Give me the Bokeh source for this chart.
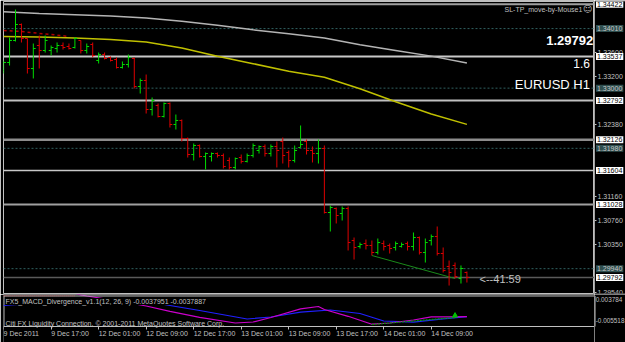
from bokeh.plotting import figure
from bokeh.models import (Range1d, FixedTicker, NumeralTickFormatter, Span, Label,
                          ColumnDataSource, LinearAxis)
from bokeh.layouts import column, row
from bokeh.embed import file_html
from bokeh.resources import INLINE

FONT = "Liberation Sans"

# ---------------- data (EURUSD H1) ----------------
bar_open = [1.33299, 1.33435, 1.33808, 1.34079, 1.33842, 1.33333, 1.33723, 1.33638, 1.33638, 1.33672,
            1.33723, 1.33706, 1.33689, 1.33808, 1.33638, 1.33740, 1.33469, 1.33571, 1.33520, 1.33486,
            1.33350, 1.33401, 1.33503, 1.33028, 1.33130, 1.32638, 1.32706, 1.32519, 1.32740, 1.32384,
            1.32452, 1.32146, 1.31875, 1.32028, 1.31841, 1.31841, 1.31892, 1.31858, 1.31774, 1.31655,
            1.31824, 1.31757, 1.31858, 1.31943, 1.32011, 1.31892, 1.32011, 1.32096, 1.31909, 1.31774,
            1.31994, 1.32096, 1.31943, 1.31892, 1.31977, 1.30892, 1.30960, 1.30875, 1.30960, 1.30417,
            1.30316, 1.30366, 1.30333, 1.30214, 1.30366, 1.30333, 1.30299, 1.30316, 1.30366, 1.30316,
            1.30468, 1.30214, 1.30417, 1.30485, 1.30197, 1.29977, 1.29994, 1.29773, 1.29875]
bar_high = [1.33469, 1.33859, 1.34333, 1.34096, 1.33842, 1.33757, 1.33893, 1.33893, 1.33723, 1.33774,
            1.33774, 1.33757, 1.33859, 1.33808, 1.33757, 1.33774, 1.33604, 1.33604, 1.33537, 1.33520,
            1.33452, 1.33571, 1.33520, 1.33164, 1.33231, 1.32842, 1.32740, 1.32757, 1.32757, 1.32553,
            1.32469, 1.32163, 1.32062, 1.32045, 1.31909, 1.31909, 1.31909, 1.31892, 1.31824, 1.31824,
            1.31875, 1.31892, 1.32062, 1.32028, 1.32045, 1.32045, 1.32096, 1.32163, 1.31943, 1.32028,
            1.32367, 1.32130, 1.32011, 1.32130, 1.32028, 1.31011, 1.30977, 1.30994, 1.30994, 1.30468,
            1.30383, 1.30434, 1.30417, 1.30451, 1.30417, 1.30366, 1.30400, 1.30383, 1.30400, 1.30553,
            1.30485, 1.30451, 1.30519, 1.30655, 1.30299, 1.30078, 1.30044, 1.29994, 1.29892]
bar_low = [1.33248, 1.33384, 1.33791, 1.33774, 1.33248, 1.33164, 1.33333, 1.33604, 1.33554, 1.33604,
           1.33655, 1.33655, 1.33672, 1.33588, 1.33588, 1.33520, 1.33418, 1.33486, 1.33452, 1.33333,
           1.33333, 1.33350, 1.32994, 1.32909, 1.32570, 1.32536, 1.32503, 1.32503, 1.32333, 1.32299,
           1.32096, 1.31824, 1.31774, 1.31824, 1.31621, 1.31757, 1.31824, 1.31638, 1.31621, 1.31621,
           1.31723, 1.31740, 1.31824, 1.31892, 1.31841, 1.31841, 1.31655, 1.31723, 1.31655, 1.31740,
           1.31994, 1.31875, 1.31740, 1.31723, 1.30875, 1.30570, 1.30706, 1.30756, 1.30248, 1.30095,
           1.30282, 1.30265, 1.30163, 1.30180, 1.30248, 1.30197, 1.30248, 1.30299, 1.30248, 1.30248,
           1.30180, 1.30044, 1.30333, 1.30163, 1.29875, 1.29654, 1.29773, 1.29688, 1.29705]
bar_close = [1.33435, 1.33808, 1.34079, 1.33842, 1.33333, 1.33672, 1.33638, 1.33808, 1.33689, 1.33723,
             1.33689, 1.33672, 1.33842, 1.33638, 1.33706, 1.33554, 1.33571, 1.33503, 1.33469, 1.33350,
             1.33401, 1.33520, 1.33028, 1.33130, 1.32638, 1.32791, 1.32519, 1.32740, 1.32384, 1.32452,
             1.32146, 1.31875, 1.32028, 1.31841, 1.31892, 1.31892, 1.31858, 1.31672, 1.31655, 1.31807,
             1.31757, 1.31858, 1.32028, 1.32011, 1.31892, 1.32011, 1.31943, 1.31858, 1.31774, 1.31943,
             1.32045, 1.31943, 1.31892, 1.31977, 1.30892, 1.30977, 1.30841, 1.30960, 1.30383, 1.30299,
             1.30350, 1.30333, 1.30214, 1.30383, 1.30316, 1.30282, 1.30366, 1.30350, 1.30316, 1.30468,
             1.30214, 1.30383, 1.30485, 1.30197, 1.29909, 1.29875, 1.29807, 1.29943, 1.29792]

time_tick_bars = [0, 8, 16, 24, 32, 40, 48, 56, 64, 72]
time_tick_labels = ["9 Dec 2011", "9 Dec 17:00", "12 Dec 01:00", "12 Dec 09:00", "12 Dec 17:00",
                    "13 Dec 01:00", "13 Dec 09:00", "13 Dec 17:00", "14 Dec 01:00", "14 Dec 09:00"]

price_ticks = [1.33600, 1.33200, 1.32380, 1.31160, 1.30760, 1.30350, 1.29540]
white_levels = [1.34422, 1.33537, 1.32792, 1.32126, 1.31604, 1.31028]
teal_levels = [1.34010, 1.33000, 1.31980, 1.29940]

ma_bars = [0, 6, 12, 18, 24, 30, 36, 42, 48, 54, 60, 66, 72, 78]
ma_silver = [1.34294, 1.34267, 1.34245, 1.34222, 1.34189, 1.34133, 1.34066, 1.33989,
             1.33923, 1.33852, 1.33735, 1.33638, 1.33543, 1.33426]
ma_yellow = [1.33876, 1.33867, 1.33852, 1.33825, 1.33782, 1.33681, 1.33542, 1.33415,
             1.33286, 1.33184, 1.32991, 1.32769, 1.32562, 1.32386]
stop_bars = [0, 3, 5, 8, 11]
stop_line = [1.33977, 1.33960, 1.33938, 1.33910, 1.33876]
div_bars = [62, 76]

macd_bars = [11, 13, 14, 19, 24, 28, 33, 39, 42, 45, 50, 53, 54, 58, 62, 65, 69, 72, 75, 78]
macd_main = [0.007328, 0.005778, 0.005335, 0.003252, 0.000905, -0.001443, -0.004101, -0.006627,
             -0.006184, -0.004190, -0.000336, 0.000683, -0.000646, -0.003658, -0.007158, -0.006627,
             -0.005298, -0.003880, -0.003950, -0.003795]
signal_bars = [0, 5, 10, 16, 22, 27, 33, 41, 45, 50, 55, 60, 64, 69, 74, 78]
macd_signal = [0.001126, 0.002012, 0.002677, 0.003120, 0.002898, 0.001569, -0.001089, -0.004855,
               -0.003969, -0.001842, -0.000868, -0.002418, -0.005741, -0.006272, -0.004766, -0.003789]
osma_top_bars = [0, 12]
osma_top = [0.00540, 0.00540]
macd_div_vals = [-0.007291, -0.004190]
macd_arrow = -0.003304
ind_scale = [0.003784, -0.005518]

UP, DOWN = "#00dd00", "#dd0000"
GREY = "#c0c0c0"

# indicator panel edges (MACD units) and time-label row
IND_TOP, IND_BOTTOM, TIME_ROW = 0.005335, -0.008177, -0.011278


def base_fig(**kw):
    f = figure(output_backend="svg", toolbar_location=None, title=None,
               x_axis_location=None, y_axis_location=None,
               background_fill_color="black", border_fill_color="black", **kw)
    f.grid.visible = False
    return f


# ---------------- main price panel ----------------
p = base_fig(width=594, height=294, x_range=Range1d(-0.02, 99.48), y_range=Range1d(1.29519, 1.34469),
             min_border_left=3, min_border_right=0, min_border_top=1, min_border_bottom=1)
p.outline_line_color = GREY

white_styles = [("#a0a0a0", 2), ("#c8c8c8", 2), ("#c0c0c0", 2), ("#8c8c8c", 2.5), ("#c8c8c8", 1.5), ("#a0a0a0", 2)]
for lvl, (c, w) in zip(white_levels, white_styles):
    p.add_layout(Span(location=lvl, dimension="width", line_color=c, line_width=w, level="underlay"))
for lvl in teal_levels:
    p.add_layout(Span(location=lvl, dimension="width", line_color="#2f5f5f", line_width=1,
                      line_dash="2 2", level="underlay"))
bid = bar_close[-1]
p.add_layout(Span(location=bid, dimension="width", line_color="#5a5a5a", line_width=1.5, level="underlay"))

p.line(ma_bars, ma_silver, line_color="#b4b4b4", line_width=1.5)
p.line(ma_bars, ma_yellow, line_color="#c0c000", line_width=1.5)
p.line(stop_bars, stop_line, line_color="#b00000", line_width=1.5, line_dash="3 3")
p.line(div_bars, [bar_low[b] for b in div_bars], line_color="#1a8a1a", line_width=1)

idx = list(range(len(bar_open)))
src = ColumnDataSource(dict(
    x=idx, xl=[i - 0.4 for i in idx], xr=[i + 0.4 for i in idx],
    o=bar_open, h=bar_high, l=bar_low, c=bar_close,
    color=[UP if c >= o else DOWN for o, c in zip(bar_open, bar_close)]))
p.segment(x0="x", y0="l", x1="x", y1="h", line_color="color", line_width=1, source=src)
p.segment(x0="xl", y0="o", x1="x", y1="o", line_color="color", line_width=1, source=src)
p.segment(x0="x", y0="c", x1="xr", y1="c", line_color="color", line_width=1, source=src)

p.add_layout(Label(x=84.33, y=1.34339, text="SL-TP_move-by-Mouse1", text_font=FONT,
                   text_font_size="7px", text_color=GREY, text_baseline="middle", text_align="left"))
p.add_layout(Label(x=98.3, y=1.34339, text="\u263a", text_font="DejaVu Sans",
                   text_font_size="9px", text_color=GREY, text_baseline="middle", text_align="center"))
p.add_layout(Label(x=99.26, y=1.33808, text=f"{bid:.5f}", text_font=FONT, text_font_style="bold",
                   text_font_size="13px", text_color="white", text_baseline="middle", text_align="right"))
p.add_layout(Label(x=98.72, y=1.33423, text="1.6", text_font=FONT,
                   text_font_size="12px", text_color="white", text_baseline="middle", text_align="right"))
p.add_layout(Label(x=98.72, y=1.33057, text="EURUSD H1", text_font=FONT,
                   text_font_size="13px", text_color="white", text_baseline="middle", text_align="right"))
p.add_layout(Label(x=80.12, y=1.29768, text="<--41:59", text_font=FONT,
                   text_font_size="11px", text_color=GREY, text_baseline="middle", text_align="left"))

# ---------------- price scale column (right of the main panel) ----------------
pa = base_fig(width=31, height=294, x_range=Range1d(0, 31), y_range=p.y_range,
              min_border_left=0, min_border_right=0, min_border_top=1, min_border_bottom=1)
pa.outline_line_color = None
ax = LinearAxis(fixed_location=0, ticker=FixedTicker(ticks=price_ticks),
                formatter=NumeralTickFormatter(format="0.00000"))
ax.major_label_text_font = FONT
ax.major_label_text_font_size = "7px"
ax.major_label_text_color = GREY
ax.axis_line_color = GREY
ax.major_tick_line_color = GREY
ax.major_tick_in = 0
ax.major_tick_out = 2
ax.minor_tick_line_color = None
ax.major_label_standoff = 1
pa.add_layout(ax, "right")


def box_label(fig, y, text, fill, color):
    fig.add_layout(Label(x=1.5, y=y, text=text, text_font=FONT, text_font_size="7px",
                         text_color=color, text_baseline="middle", text_align="left",
                         background_fill_color=fill, padding=1))


for lvl in white_levels + [bid]:
    box_label(pa, lvl, f"{lvl:.5f}", "white", "black")
for lvl in teal_levels:
    box_label(pa, lvl, f"{lvl:.5f}", "#2f4f4f", "#c8c8c8")

# ---------------- indicator panel ----------------
q = base_fig(width=594, height=48, x_range=p.x_range, y_range=Range1d(-0.015265, 0.005999),
             min_border_left=3, min_border_right=0, min_border_top=0, min_border_bottom=0)
q.outline_line_color = None
q.add_layout(Span(location=IND_TOP, dimension="width", line_color=GREY, line_width=1))
q.segment(x0=[0.06], y0=[IND_BOTTOM], x1=[0.06], y1=[IND_TOP], line_color=GREY, line_width=1)

xa = LinearAxis(fixed_location=IND_BOTTOM, ticker=FixedTicker(ticks=time_tick_bars))
xa.major_label_overrides = {b: "" for b in time_tick_bars}
xa.major_label_text_font_size = "0px"
xa.axis_line_color = GREY
xa.major_tick_line_color = GREY
xa.major_tick_in = 0
xa.major_tick_out = 3
xa.minor_tick_line_color = None
q.add_layout(xa, "below")

q.line(osma_top_bars, osma_top, line_color="#cc0000", line_width=1, line_dash="1 1")
q.line(signal_bars, macd_signal, line_color="#2020ff", line_width=1.2)
q.line(macd_bars, macd_main, line_color="#cc00cc", line_width=1.2)
q.line(div_bars, macd_div_vals, line_color="#00a000", line_width=1.2, line_dash="2 1")
q.scatter([div_bars[-1]], [macd_arrow], marker="triangle", size=5, color="#00c000")

q.add_layout(Label(x=0.32, y=0.002898, text="FX5_MACD_Divergence_v1.1(12, 26, 9) -0.0037951 -0.0037887",
                   text_font=FONT, text_font_size="7px", text_color=GREY, text_baseline="middle",
                   text_align="left", background_fill_color="black"))
q.add_layout(Label(x=0.32, y=-0.006715,
                   text="Citi FX Liquidity Connection, \u00a9 2001-2011 MetaQuotes Software Corp.",
                   text_font=FONT, text_font_size="7px", text_color=GREY, text_baseline="middle",
                   text_align="left"))
for b, t in zip(time_tick_bars, time_tick_labels):
    q.add_layout(Label(x=b, y=TIME_ROW, text=t, text_font=FONT, text_font_size="7px",
                       text_color=GREY, text_baseline="middle", text_align="left"))

# ---------------- indicator scale column ----------------
qa = base_fig(width=31, height=48, x_range=Range1d(0, 31), y_range=q.y_range,
              min_border_left=0, min_border_right=0, min_border_top=0, min_border_bottom=0)
qa.outline_line_color = None
qa.segment(x0=[0.5], y0=[IND_BOTTOM], x1=[0.5], y1=[IND_TOP], line_color=GREY, line_width=1)
for v in ind_scale:
    qa.add_layout(Label(x=1.2, y=v, text=f"{v:.6f}", text_font=FONT, text_font_size="6.4px",
                        text_color=GREY, text_baseline="middle", text_align="left"))

layout = row(column(p, q), column(pa, qa))
open("out.html", "w").write(file_html(layout, INLINE))
